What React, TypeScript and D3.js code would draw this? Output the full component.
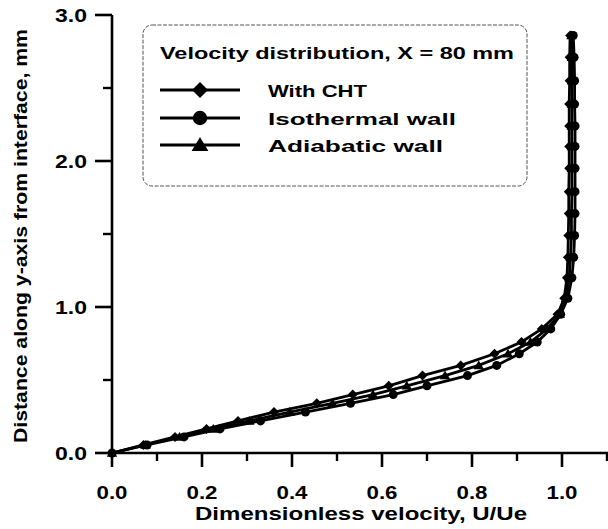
import React from "react";
import * as d3 from "d3";

const yGrid = [0, 0.055, 0.11, 0.165, 0.22, 0.28, 0.34, 0.40, 0.46, 0.53, 0.60, 0.68, 0.76, 0.85, 0.95, 1.06, 1.20, 1.34, 1.49, 1.64, 1.79, 1.95, 2.10, 2.24, 2.39, 2.55, 2.71, 2.86];
const uCHT = [0, 0.07, 0.14, 0.21, 0.28, 0.36, 0.455, 0.535, 0.615, 0.69, 0.775, 0.85, 0.91, 0.955, 0.99, 1.005, 1.011, 1.013, 1.014, 1.015, 1.015, 1.016, 1.016, 1.016, 1.016, 1.017, 1.017, 1.018];
const uAdiabatic = [0, 0.074, 0.15, 0.225, 0.305, 0.395, 0.49, 0.58, 0.655, 0.74, 0.815, 0.88, 0.93, 0.967, 0.995, 1.009, 1.016, 1.019, 1.021, 1.021, 1.022, 1.022, 1.022, 1.022, 1.022, 1.022, 1.022, 1.021];
const uIsothermal = [0, 0.078, 0.16, 0.24, 0.33, 0.43, 0.53, 0.625, 0.70, 0.79, 0.855, 0.905, 0.945, 0.975, 0.997, 1.013, 1.022, 1.026, 1.028, 1.029, 1.029, 1.029, 1.029, 1.029, 1.028, 1.028, 1.027, 1.025];

const xMajor = [0, 0.2, 0.4, 0.6, 0.8, 1.0];
const xMinor = [0.1, 0.3, 0.5, 0.7, 0.9, 1.1];
const yMajor = [0, 1, 2, 3];
const yMinor = [0.5, 1.5, 2.5];

const legendTitle = "Velocity distribution, X = 80 mm";
const seriesNames = ["With CHT", "Isothermal wall", "Adiabatic wall"];
const xTitle = "Dimensionless velocity, U/Ue";
const yTitle = "Distance along y-axis from interface, mm";

const FONT = "'Liberation Sans', Arial, sans-serif";

function marker(type: string, cx: number, cy: number, s: number, key?: any) {
  if (type === "diamond") {
    return <path key={key} d={`M${cx},${cy - s}L${cx + s},${cy}L${cx},${cy + s}L${cx - s},${cy}Z`} fill="#000" />;
  }
  if (type === "circle") {
    return <circle key={key} cx={cx} cy={cy} r={s * 0.9} fill="#000" />;
  }
  return <path key={key} d={`M${cx},${cy - s}L${cx + s * 1.05},${cy + s * 0.75}L${cx - s * 1.05},${cy + s * 0.75}Z`} fill="#000" />;
}

export default function App() {
  const x = d3.scaleLinear().domain([0, 1.1]).range([112, 607]);
  const y = d3.scaleLinear().domain([0, 3]).range([453, 15]);

  const series = [
    { name: seriesNames[0], u: uCHT, m: "diamond" },
    { name: seriesNames[1], u: uIsothermal, m: "circle" },
    { name: seriesNames[2], u: uAdiabatic, m: "triangle" },
  ];

  const line = d3.line<[number, number]>().x((d) => x(d[0])).y((d) => y(d[1]));

  return (
    <svg width={608} height={529} style={{ position: "absolute", left: 0, top: 0, background: "#fff" }}>
      <rect x={0} y={0} width={608} height={529} fill="#fff" />
      {series.map((s, i) => {
        const pts: [number, number][] = s.u.map((u, j) => [u, yGrid[j]]);
        return (
          <g key={i}>
            <path d={line(pts) || ""} fill="none" stroke="#000" strokeWidth={2.8} />
            {pts.map((p, j) => marker(s.m, x(p[0]), y(p[1]), 5, j))}
          </g>
        );
      })}
      <line x1={112} x2={112} y1={y(3)} y2={y(0)} stroke="#000" strokeWidth={2.6} />
      <line x1={112} x2={608} y1={y(0)} y2={y(0)} stroke="#000" strokeWidth={2.6} />
      {yMajor.map((v) => (
        <g key={"ym" + v}>
          <line x1={95} x2={112} y1={y(v)} y2={y(v)} stroke="#000" strokeWidth={2.6} />
          <text x={87} y={y(v) + 6.5} textAnchor="end" fontFamily={FONT} fontWeight="bold" fontSize={18} textLength={32} lengthAdjust="spacingAndGlyphs">
            {v.toFixed(1)}
          </text>
        </g>
      ))}
      {yMinor.map((v) => (
        <line key={"yn" + v} x1={103} x2={112} y1={y(v)} y2={y(v)} stroke="#000" strokeWidth={2.4} />
      ))}
      {xMajor.map((v) => (
        <g key={"xm" + v}>
          <line x1={x(v)} x2={x(v)} y1={y(0)} y2={y(0) + 14} stroke="#000" strokeWidth={2.6} />
          <text x={x(v)} y={498.5} textAnchor="middle" fontFamily={FONT} fontWeight="bold" fontSize={18} textLength={31} lengthAdjust="spacingAndGlyphs">
            {v.toFixed(1)}
          </text>
        </g>
      ))}
      {xMinor.map((v) => (
        <line key={"xn" + v} x1={x(v)} x2={x(v)} y1={y(0)} y2={y(0) + 8} stroke="#000" strokeWidth={2.4} />
      ))}
      <text x={361} y={520} textAnchor="middle" fontFamily={FONT} fontWeight="bold" fontSize={19} textLength={332} lengthAdjust="spacingAndGlyphs">
        {xTitle}
      </text>
      <text transform="translate(27,236) rotate(-90)" textAnchor="middle" fontFamily={FONT} fontWeight="bold" fontSize={18} textLength={414} lengthAdjust="spacingAndGlyphs">
        {yTitle}
      </text>
      <rect x={143} y={25} width={384} height={161} rx={9} fill="#fff" stroke="#555" strokeWidth={1} strokeDasharray="4,1.5" />
      <text x={160} y={58.5} fontFamily={FONT} fontWeight="bold" fontSize={17} textLength={354} lengthAdjust="spacingAndGlyphs">
        {legendTitle}
      </text>
      {series.map((s, i) => {
        const ly = [90, 118, 145][i];
        return (
          <g key={"lg" + i}>
            <line x1={160} x2={240} y1={ly} y2={ly} stroke="#000" strokeWidth={3} />
            {marker(s.m, 200, ly, 8)}
            <text x={268} y={ly + 6.5} fontFamily={FONT} fontWeight="bold" fontSize={17} textLength={[99, 188, 175][i]} lengthAdjust="spacingAndGlyphs">
              {s.name}
            </text>
          </g>
        );
      })}
    </svg>
  );
}
